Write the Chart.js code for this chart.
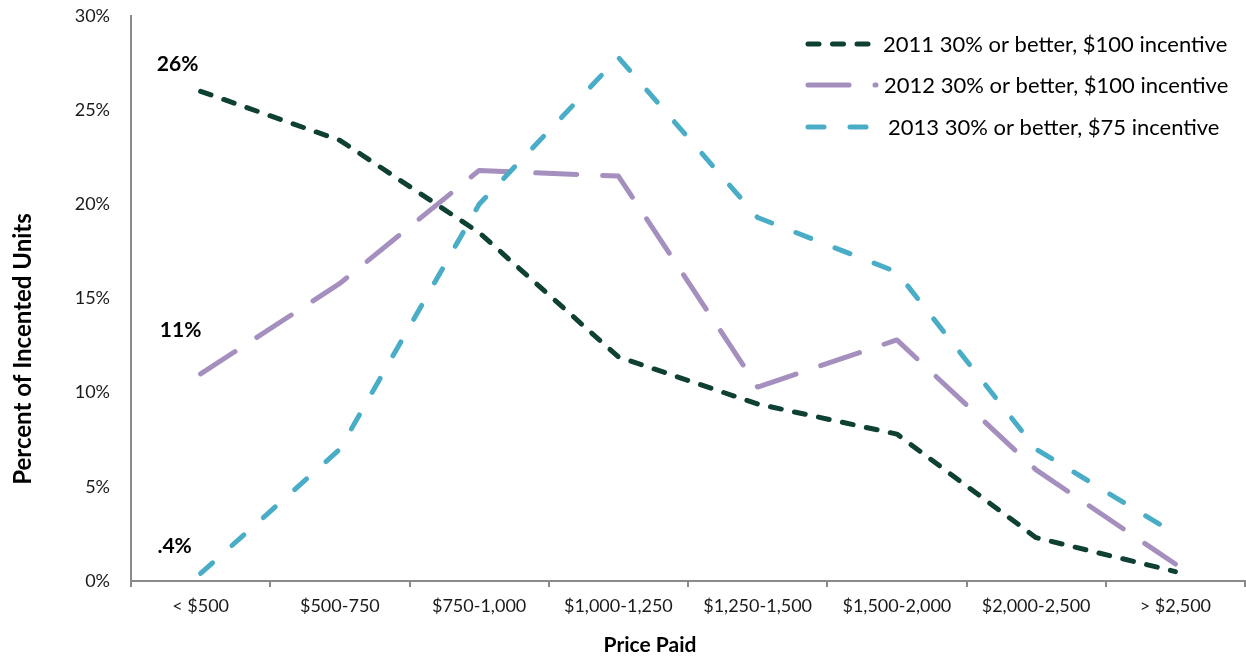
<!DOCTYPE html>
<html>
<head>
<meta charset="utf-8">
<title>Percent of Incented Units by Price Paid</title>
<script src="https://cdn.jsdelivr.net/npm/chart.js@4.4.1/dist/chart.umd.min.js"></script>
<style>
  html, body { margin: 0; padding: 0; background: #ffffff; }
  #wrap { width: 1246px; height: 658px; }
</style>
</head>
<body>
<div id="wrap"><canvas id="chart" width="1246" height="658"></canvas></div>
<script>
// Price bands on the x axis
const categories = ['< $500', '$500-750', '$750-1,000', '$1,000-1,250', '$1,250-1,500', '$1,500-2,000', '$2,000-2,500', '> $2,500'];

// Share of incented units in each price band (percent)
const series2011 = [26, 23.4, 18.5, 11.9, 9.4, 7.8, 2.3, 0.5];
const series2012 = [11, 15.8, 21.8, 21.5, 10.3, 12.8, 5.9, 0.9];
const series2013 = [0.4, 7.0, 20.0, 27.8, 19.3, 16.4, 7.0, 2.5];

const seriesNames = ['2011 30% or better, $100 incentive', '2012 30% or better, $100 incentive', '2013 30% or better, $75 incentive'];

// Y axis tick values
const yTicks = [0, 5, 10, 15, 20, 25, 30];

const FONT = 'Lato, "Open Sans", sans-serif';

// Legend, first-point value labels and axis titles
const annotations = {
  id: 'annotations',
  afterDatasetsDraw(chart) {
    const ctx = chart.ctx;
    ctx.save();

    // value labels next to each series' first point
    const labelOffsets = [[-23, -27], [-20, -44], [-26, -27]];
    chart.data.datasets.forEach((ds, i) => {
      const meta = chart.getDatasetMeta(i);
      const pt = meta.data[0];
      const v = ds.data[0];
      const txt = (v < 1 ? String(v).replace(/^0/, '') : String(Math.round(v))) + '%';
      ctx.font = 'bold 21px ' + FONT;
      ctx.fillStyle = '#000000';
      ctx.textAlign = 'center';
      ctx.textBaseline = 'middle';
      ctx.fillText(txt, pt.x + labelOffsets[i][0], pt.y + labelOffsets[i][1]);
    });

    // legend
    const rowY = [44, 85, 127];
    const textX = [883, 884, 888];
    chart.data.datasets.forEach((ds, i) => {
      ctx.save();
      ctx.strokeStyle = ds.borderColor;
      ctx.lineWidth = ds.borderWidth;
      ctx.lineCap = 'round';
      ctx.setLineDash(ds.borderDash);
      ctx.beginPath();
      ctx.moveTo(808, rowY[i]);
      ctx.lineTo(876, rowY[i]);
      ctx.stroke();
      ctx.restore();
      ctx.font = '22px ' + FONT;
      ctx.fillStyle = '#000000';
      ctx.textAlign = 'left';
      ctx.textBaseline = 'middle';
      ctx.fillText(ds.label, textX[i], rowY[i] + 1);
    });

    // axis titles
    ctx.fillStyle = '#000000';
    ctx.textAlign = 'center';
    ctx.textBaseline = 'middle';
    ctx.font = 'bold 21px ' + FONT;
    ctx.fillText('Price Paid', 650, 645);
    ctx.save();
    ctx.translate(23, 349);
    ctx.rotate(-Math.PI / 2);
    ctx.font = 'bold 24px ' + FONT;
    ctx.fillText('Percent of Incented Units', 0, 0);
    ctx.restore();

    ctx.restore();
  }
};

const lineCommon = {
  borderWidth: 5,
  borderCapStyle: 'round',
  borderJoinStyle: 'round',
  pointRadius: 0,
  pointHoverRadius: 0,
  tension: 0,
  fill: false
};

new Chart(document.getElementById('chart'), {
  type: 'line',
  data: {
    labels: categories,
    datasets: [
      Object.assign({}, lineCommon, {
        label: seriesNames[0],
        data: series2011,
        borderColor: '#0E4033',
        borderDash: [11, 13.5],
        order: 3
      }),
      Object.assign({}, lineCommon, {
        label: seriesNames[1],
        data: series2012,
        borderColor: '#A48FBE',
        borderDash: [41, 26],
        order: 2
      }),
      Object.assign({}, lineCommon, {
        label: seriesNames[2],
        data: series2013,
        borderColor: '#4AADC7',
        borderDash: [16, 26],
        order: 1
      })
    ]
  },
  options: {
    responsive: false,
    animation: false,
    devicePixelRatio: 1,
    layout: { padding: { top: 16, right: 1, left: 0, bottom: 0 } },
    plugins: {
      legend: { display: false },
      tooltip: { enabled: false }
    },
    scales: {
      x: {
        type: 'category',
        offset: true,
        grid: {
          display: true,
          offset: true,
          drawOnChartArea: false,
          drawTicks: true,
          tickLength: 6,
          color: '#8A8A8A',
          lineWidth: 2
        },
        border: { display: true, color: '#8A8A8A', width: 2 },
        ticks: {
          color: '#1A1A1A',
          font: { family: FONT, size: 18 },
          padding: 8,
          maxRotation: 0,
          autoSkip: false
        },
        afterFit(scale) {
          scale.height = 77;
          scale.paddingLeft = 0;
          scale.paddingRight = 0;
        }
      },
      y: {
        min: 0,
        max: 30,
        grid: {
          display: true,
          drawOnChartArea: false,
          drawTicks: false
        },
        border: { display: true, color: '#8A8A8A', width: 2 },
        afterBuildTicks(scale) {
          scale.ticks = yTicks.map(v => ({ value: v }));
        },
        ticks: {
          color: '#1A1A1A',
          font: { family: FONT, size: 18 },
          padding: 21,
          callback: v => v + '%'
        },
        afterFit(scale) {
          scale.width = 131;
          scale.paddingTop = 0;
          scale.paddingBottom = 0;
        }
      }
    }
  },
  plugins: [annotations]
});
</script>
</body>
</html>
